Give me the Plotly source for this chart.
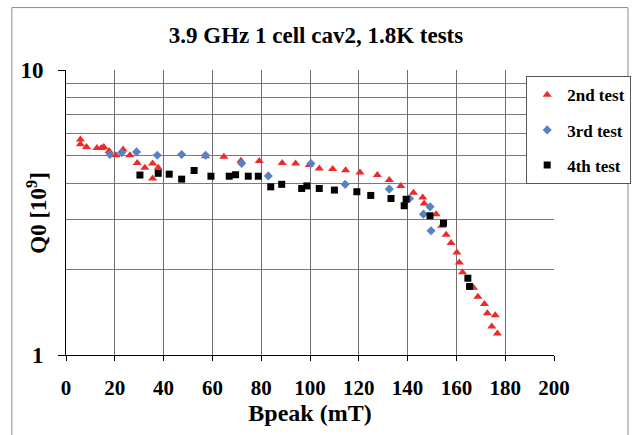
import plotly.graph_objects as go

# Q0 vs peak magnetic field, three cold tests of the same cavity
b_2nd = [5.9, 5.9, 8.4, 12.7, 14.5, 15.5, 17.7, 20.4, 23.4, 26.2, 29.2, 32.3, 35.5, 37.8, 35.5,
         57.2, 64.7, 71.7, 79.2, 88.6, 94.1, 99.7, 103.8, 109.3, 114.6, 120.5, 127.6, 132.5,
         137.2, 142.4, 146.2, 146.8, 151.7, 154.0, 155.8, 157.8, 160.2, 161.2, 162.5, 167.0,
         168.8, 171.5, 172.7, 175.9, 174.5, 176.8]
q_2nd = [5.70, 5.49, 5.37, 5.32, 5.32, 5.37, 5.20, 5.02, 5.26, 5.02, 4.72, 4.54, 4.70, 4.54, 4.16,
         4.98, 4.96, 4.80, 4.79, 4.72, 4.70, 4.64, 4.51, 4.49, 4.45, 4.37, 4.28, 4.11,
         3.92, 3.71, 3.57, 3.40, 3.12, 2.84, 2.64, 2.47, 2.29, 2.11, 1.95, 1.72,
         1.60, 1.51, 1.40, 1.38, 1.26, 1.19]

b_3rd = [18.0, 22.8, 28.9, 37.4, 47.4, 57.2, 72.0, 82.9, 100.4, 114.4, 132.5, 140.8, 149.2,
         146.5, 149.6]
q_3rd = [5.05, 5.13, 5.16, 5.02, 5.05, 5.02, 4.70, 4.25, 4.70, 3.97, 3.82, 3.54, 3.31,
         3.12, 2.73]

b_4th = [30.3, 37.8, 42.3, 47.4, 52.5, 59.4, 66.9, 69.5, 74.7, 78.8, 83.9, 88.4, 96.6, 98.7,
         103.8, 110.0, 119.2, 124.9, 133.2, 139.4, 138.6, 149.2, 154.7, 164.7, 165.4]
q_4th = [4.28, 4.34, 4.31, 4.14, 4.44, 4.24, 4.24, 4.29, 4.24, 4.24, 3.89, 3.97, 3.84, 3.92,
         3.84, 3.79, 3.74, 3.63, 3.54, 3.52, 3.34, 3.08, 2.90, 1.86, 1.74]

x_ticks = [0, 20, 40, 60, 80, 100, 120, 140, 160, 180, 200]
y_ticks = [1, 10]
y_grid = [2, 3, 4, 5, 6, 7, 8, 9]

SERIF = "Liberation Serif, Times New Roman, serif"

fig = go.Figure()
fig.add_trace(go.Scatter(x=b_2nd, y=q_2nd, mode="markers", name="<b>2nd test</b>",
                         legendgroup="a",
                         marker=dict(symbol="triangle-up", size=8, color="#EC2A2A")))
fig.add_trace(go.Scatter(x=b_3rd, y=q_3rd, mode="markers", name="<b>3rd test</b>",
                         legendgroup="b",
                         marker=dict(symbol="diamond", size=7, color="#5581C8")))
fig.add_trace(go.Scatter(x=b_4th, y=q_4th, mode="markers", name="<b>4th test</b>",
                         legendgroup="c",
                         marker=dict(symbol="square", size=7, color="#000000")))

# outer chart frame
fig.add_shape(type="rect", xref="paper", yref="paper",
              x0=-0.111, x1=1.1516, y0=-0.30, y1=1.219,
              line=dict(color="#8a8a8a", width=1), fillcolor="rgba(0,0,0,0)", layer="below")

# vertical axis title
fig.add_annotation(text="<b>Q0 [10<sup>9</sup>]</b>", xref="paper", yref="paper",
                   x=-0.059, y=0.5, xanchor="center", yanchor="middle", textangle=-90,
                   showarrow=False, font=dict(size=23, family=SERIF))

fig.update_layout(
    width=632, height=435,
    margin=dict(l=66, r=78, t=70, b=80, autoexpand=False),
    paper_bgcolor="white", plot_bgcolor="white",
    font=dict(family=SERIF, color="black"),
    title=dict(text="<b>3.9 GHz 1 cell cav2, 1.8K tests</b>", xref="container", yref="container",
               x=0.5, y=0.92, xanchor="center", yanchor="middle",
               font=dict(size=23, family=SERIF)),
    legend=dict(x=0.943, y=0.978, xanchor="left", yanchor="top",
                bgcolor="white", bordercolor="#555", borderwidth=1,
                font=dict(size=17, family=SERIF), tracegroupgap=10,
                itemwidth=30),
    showlegend=True,
)

fig.update_xaxes(
    range=[0, 200], tickvals=x_ticks, ticks="outside", ticklen=5, tickcolor="black",
    showline=True, linecolor="black", linewidth=1, automargin=False,
    showgrid=True, gridcolor="#6e6e6e", gridwidth=1, zeroline=False,
    tickfont=dict(size=21, family=SERIF, weight="bold"), ticklabelstandoff=9,
    title=dict(text="<b>Bpeak (mT)</b>", font=dict(size=24, family=SERIF), standoff=2),
)
fig.update_yaxes(
    type="log", range=[0, 1], tickvals=y_ticks, ticktext=["<b>1</b>", "<b>10</b>"],
    ticks="outside", ticklen=7, tickcolor="black",
    showline=True, linecolor="black", linewidth=1, automargin=False,
    showgrid=True, gridcolor="#8a8a8a", gridwidth=1, zeroline=False,
    minor=dict(tickvals=y_grid, showgrid=True, gridcolor="#7a7a7a", gridwidth=1, ticks=""),
    tickfont=dict(size=23, family=SERIF), ticklabelstandoff=10,
)

fig.write_html("out.html")
